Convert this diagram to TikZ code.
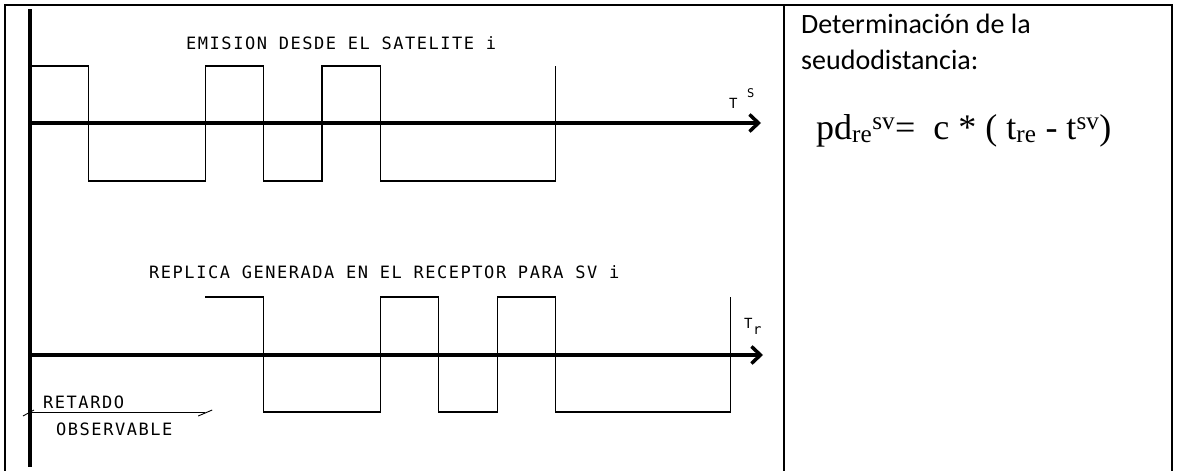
\documentclass[tikz,border=0pt]{standalone}
\usepackage{fontspec}
\setmainfont{Carlito}
\newfontfamily\cadfont[LetterSpace=9]{DejaVu Sans Mono}
\newfontfamily\timesfont{Liberation Serif}
\usetikzlibrary{arrows.meta}

\begin{document}
\begin{tikzpicture}[x=1pt, y=-1pt,
    marco/.style={line width=2.5pt},
    ejev/.style={line width=3.5pt},
    eje/.style={line width=3.5pt, -{Straight Barb[length=9pt,width=17pt]}},
    onda/.style={line width=1.2pt},
    cota/.style={line width=0.9pt},
    cad/.style={inner sep=0pt, anchor=base west, font=\cadfont\fontsize{17}{20}\selectfont},
    cadchico/.style={inner sep=0pt, anchor=base west, font=\cadfont\fontsize{14}{16}\selectfont},
    texto/.style={inner sep=0pt, anchor=base west, font=\fontsize{28}{34}\selectfont}]

\useasboundingbox (0,0) rectangle (1178,471);

% Datos de las señales
\def\xo{30}    % origen de los ejes
\def\ch{58.4}  % duración de un chip
\def\hiA{66}   % nivel alto, satélite
\def\loA{181}  % nivel bajo, satélite
\def\hiB{297}  % nivel alto, réplica
\def\loB{412}  % nivel bajo, réplica

% Marco de la tabla
\draw[marco] (5,471) -- (5,5) -- (1172,5) -- (1172,471);
\draw[marco] (784,5) -- (784,471);

% Ejes
\coordinate (ejeTop) at (\xo,9);
\coordinate (ejeBot) at (\xo,467);
\coordinate (ejeSa) at (\xo,123);
\coordinate (ejeSb) at (761,123);
\coordinate (ejeRa) at (\xo,355);
\coordinate (ejeRb) at (763,355);
\draw[ejev] (ejeTop) -- (ejeBot);
\draw[eje] (ejeSa) -- (ejeSb);
\draw[eje] (ejeRa) -- (ejeRb);

% Código emitido por el satélite
\draw[onda] (\xo,\hiA) -| (\xo+1*\ch,\loA) -| (\xo+3*\ch,\hiA) -| (\xo+4*\ch,\loA)
  -| (\xo+5*\ch,\hiA) -| (\xo+6*\ch,\loA) -| (\xo+9*\ch,\hiA);

% Réplica del receptor (retrasada 3 chips)
\draw[onda] (\xo+3*\ch,\hiB) -| (\xo+4*\ch,\loB) -| (\xo+6*\ch,\hiB) -| (\xo+7*\ch,\loB)
  -| (\xo+8*\ch,\hiB) -| (\xo+9*\ch,\loB) -| (\xo+12*\ch,\hiB);

% Cota del retardo
\coordinate (retA) at (\xo,412);
\coordinate (retB) at (\xo+3*\ch,412);
\draw[cota] (retA) -- (retB);
\draw[cota] ([shift={(-7,4)}]retA) -- ([shift={(4,-2)}]retA);
\draw[cota] ([shift={(-7,4)}]retB) -- ([shift={(7,-2)}]retB);

% Rótulos
\node[cad] (emision) at (186,49) {EMISION DESDE EL SATELITE i};
\node[cad] (replica) at (149,278) {REPLICA GENERADA EN EL RECEPTOR PARA SV i};
\node[cad] (retardo) at (43,408) {RETARDO};
\node[cad] (observable) at (56,435) {OBSERVABLE};
\node[cadchico] (tS) at (729,108) {T};
\node[cad, font=\cadfont\fontsize{12}{14}\selectfont] (tSsup) at (747,97) {S};
\node[cadchico] (tR) at (744,328) {T};
\node[cadchico] (tRsub) at (753,334) {r};

% Texto de la derecha
\node[texto] (titulo1) at (801,34) {Determinación de la};
\node[texto] (titulo2) at (801,69) {seudodistancia:};
\node[inner sep=0pt, anchor=base west, font=\timesfont\fontsize{36}{42}\selectfont] (formula) at (816,139)
  {pd\textsubscript{re}\textsuperscript{sv}=\ \ c * ( t\textsubscript{re} - t\textsuperscript{sv})};

\end{tikzpicture}
\end{document}
